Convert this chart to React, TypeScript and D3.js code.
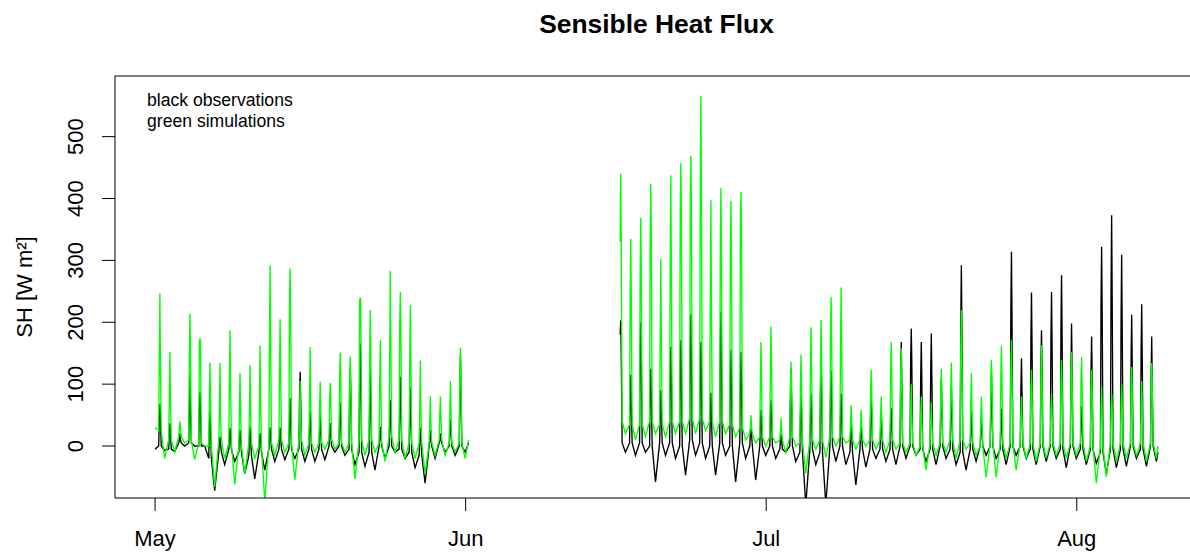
import React from "react";
import * as d3 from "d3";

// ---- data (W m-2) ----
const monthLabels = ["May", "Jun", "Jul", "Aug"];
const monthStarts = ["2013-05-01", "2013-06-01", "2013-07-01", "2013-08-01"];
const yTicks = [0, 100, 200, 300, 400, 500];

// period 1: 1 May .. 31 May (daily peak / shoulder / off-peak base / night low)
const p1FirstDay = 0; // days after 1 May
const greenPeak1 = [247,152,40,214,174,135,134,187,118,131,162,292,205,287,105,160,104,102,151,145,240,220,171,283,249,228,138,81,80,105,159];
const greenShoulder1 = [140,80,30,150,170,80,50,110,60,60,70,180,120,230,50,80,60,80,110,110,235,150,100,160,200,140,60,40,50,60,130];
const blackPeak1 = [68,37,20,118,88,58,15,29,26,31,21,30,30,77,120,55,50,37,70,126,166,125,31,74,112,95,30,25,20,42,144];
const blackShoulder1 = [40,20,10,60,60,30,5,15,15,15,10,15,15,40,80,30,25,20,40,90,120,70,15,40,70,50,15,10,10,25,90];
const greenBase1 = [25,10,15,10,5,0,10,5,0,5,0,5,10,5,10,5,5,10,5,5,10,10,5,15,10,5,5,5,10,5,5];
const blackBase1 = [0,-5,5,5,0,-20,-10,-5,-10,-15,-10,-5,-5,-5,-5,-5,-5,0,0,-5,-10,-10,0,0,-5,-10,-15,0,5,0,0];
const greenLow1 = [-20,-10,5,-22,0,-66,-20,-62,-45,-20,-90,-15,-10,-55,-15,-10,-5,-5,-10,-53,-15,-10,-25,-10,-20,-20,-45,-15,-15,-10,-20];
const blackLow1 = [-7,-9,0,0,0,-72,-30,-25,-45,-53,-39,-25,-22,-20,-25,-25,-22,-10,-15,-30,-33,-39,-20,-10,-20,-35,-60,-20,-10,-15,-10];
const p1Open = [0.0, 30, -5];   // [day, green, black]
const p1Close = [31.3, 10, 5];

// period 2: 16 Jun .. 8 Aug
const p2FirstDay = 46;
const greenPeak2 = [440,335,369,424,302,437,457,469,566,397,417,396,411,50,168, 193,45,136,148,192,204,241,256,66,58, 123,80,168,158,100,80,70,125,135,220, 118,80,139,162,171,80,123,163,85,139,152, 144,123,96,85,100,128,105,134];
const greenShoulder2 = [330,250,280,340,180,300,380,400,420,240,320,310,355,30,110, 130,25,100,100,130,140,180,170,40,35, 90,50,120,110,60,50,40,80,90,150, 70,50,110,110,120,50,90,110,60,100,110, 100,90,60,60,70,90,70,100];
const blackPeak2 = [203,115,201,125,90,160,171,213,168,86,217,155,152,40,58, 74,20,125,82,85,139,122,85,40,35, 77,50,61,168,190,168,182,109,95,292, 55,40,115,60,314,142,248,187,249,276,198, 64,177,322,373,309,212,229,177];
const blackShoulder2 = [150,70,150,90,50,110,120,150,110,50,160,110,100,20,35, 50,10,80,50,50,90,80,50,20,20, 50,30,40,110,140,110,120,70,60,200, 30,25,70,35,220,90,170,130,170,190,130, 40,120,230,250,200,140,150,110];
const greenBase2 = [40,35,35,40,35,40,40,45,45,40,40,35,30,20,15, 15,10,15,5,10,10,15,15,10,10, 10,10,10,5,5,0,5,5,10,10, 5,0,5,5,5,5,5,5,5,5,5, 5,0,0,5,5,5,5,5];
const blackBase2 = [5,5,5,0,5,5,0,10,5,0,5,0,5,0,0, 0,-5,0,-10,-5,-10,0,0,-10,-5, -5,-5,-5,0,0,-5,-5,0,-5,-10, -5,0,0,-5,0,0,-5,0,0,-5,0, -5,-5,-10,-5,-5,0,-5,0];
const greenLow2 = [20,10,15,20,15,20,20,20,25,15,20,15,10,5,0, 5,-10,0,-44,-5,-18,0,5,-5,0, -5,-10,-5,-10,-15,-39,-15,-10,-20,-5, -15,-50,-50,-20,-39,-20,-25,-20,-15,-20,-15, -25,-60,-50,-25,-20,-15,-25,-20];
const blackLow2 = [-10,-15,-10,-58,-15,-20,-47,-15,-20,-47,-15,-58,-20,-55,-15, -20,-10,-25,-95,-30,-95,-25,-30,-63,-34, -20,-25,-30,-20,-15,-25,-30,-20,-30,-39, -25,-15,-20,-30,-15,-20,-30,-25,-20,-35,-20, -30,-28,-45,-35,-33,-20,-33,-25];
const p2Open = [46.42, 330, 180];
const p2Close = [100.1, 0, -10];

// ---- layout ----
const W = 1190, H = 555;
const L = 115, R = 1198, T = 76, B = 498;
const DAY = 86400000;
const base = new Date(2013, 4, 1).getTime();
const t = (d: number) => new Date(base + d * DAY);

const x = d3.scaleTime().domain([t(-4.0), t(104.1)]).range([L, R]);
const y = d3.scaleLinear().domain([-84, 598]).range([B, T]);

type P = [number, number];
function build(first: number, peaks: number[], shoulders: number[], bases: number[], lows: number[], open: number[], close: number[], k: number): P[] {
  const pts: P[] = [[open[0], open[k]]];
  peaks.forEach((pk, i) => {
    const d = first + i;
    const cand: P[] = [
      [d + 0.36, bases[i]],
      [d + 0.42, shoulders[i]],
      [d + 0.48, pk],
      [d + 0.53, shoulders[i]],
      [d + 0.62, bases[i]],
      [d + 0.95, lows[i]],
    ];
    cand.forEach((c) => { if (c[0] > open[0] && c[0] < close[0]) pts.push(c); });
  });
  pts.push([close[0], close[k]]);
  return pts;
}

const line = d3.line<P>().x((p) => x(t(p[0]))).y((p) => y(p[1]));

const blackPaths = [
  line(build(p1FirstDay, blackPeak1, blackShoulder1, blackBase1, blackLow1, p1Open, p1Close, 2)),
  line(build(p2FirstDay, blackPeak2, blackShoulder2, blackBase2, blackLow2, p2Open, p2Close, 2)),
];
const greenPaths = [
  line(build(p1FirstDay, greenPeak1, greenShoulder1, greenBase1, greenLow1, p1Open, p1Close, 1)),
  line(build(p2FirstDay, greenPeak2, greenShoulder2, greenBase2, greenLow2, p2Open, p2Close, 1)),
];

const font = "'Liberation Sans', Arial, sans-serif";

export default function App() {
  return (
    <svg width={W} height={H} style={{ position: "absolute", left: 0, top: 0, background: "#fff" }} fontFamily={font}>
      <defs>
        <clipPath id="plot">
          <rect x={L} y={T} width={R - L} height={B - T} />
        </clipPath>
      </defs>
      <rect x={0} y={0} width={W} height={H} fill="#fff" />
      <g clipPath="url(#plot)" fill="none" strokeWidth={1.35} strokeLinejoin="miter">
        {blackPaths.map((d, i) => <path key={"b" + i} d={d || ""} stroke="#000" />)}
        {greenPaths.map((d, i) => <path key={"g" + i} d={d || ""} stroke="#00FF00" />)}
      </g>
      <rect x={L} y={T} width={R - L} height={B - T} fill="none" stroke="#000" strokeWidth={1} />
      {/* x axis */}
      {monthStarts.map((m, i) => {
        const xx = x(new Date(m + "T00:00:00"));
        return (
          <g key={m}>
            <line x1={xx} x2={xx} y1={B} y2={B + 13} stroke="#000" />
            <text x={xx} y={546} fontSize={22} textAnchor="middle" fill="#000">{monthLabels[i]}</text>
          </g>
        );
      })}
      {/* y axis */}
      {yTicks.map((v) => (
        <g key={v}>
          <line x1={L - 13} x2={L} y1={y(v)} y2={y(v)} stroke="#000" />
          <text transform={`translate(83,${y(v)}) rotate(-90)`} fontSize={22} textAnchor="middle" fill="#000">{v}</text>
        </g>
      ))}
      <text transform={`translate(32,${(T + B) / 2}) rotate(-90)`} fontSize={22} textAnchor="middle" fill="#000">SH [W m²]</text>
      <text x={(L + R) / 2} y={33} fontSize={26.4} fontWeight="bold" textAnchor="middle" fill="#000">Sensible Heat Flux</text>
      <text x={147} y={106} fontSize={17.6} fill="#000">black observations</text>
      <text x={147} y={126.5} fontSize={17.6} fill="#000">green simulations</text>
    </svg>
  );
}
